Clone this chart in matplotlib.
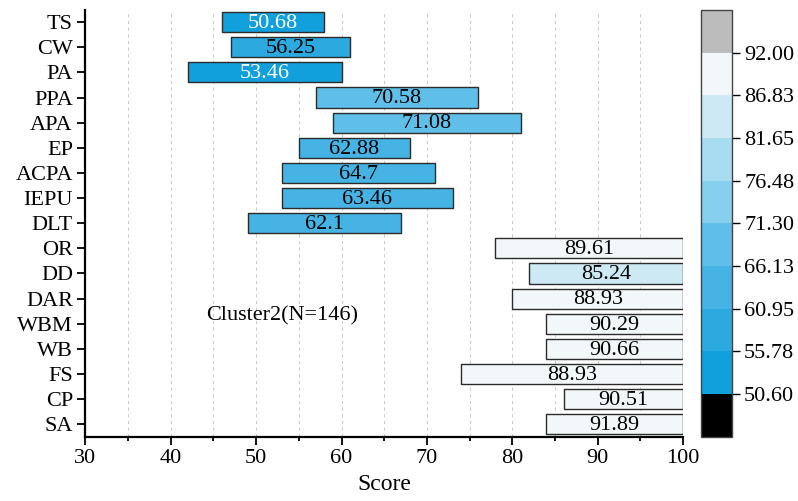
import numpy as np
import matplotlib
matplotlib.use("Agg")
import matplotlib.pyplot as plt
from matplotlib.colors import ListedColormap, BoundaryNorm
from matplotlib.colorbar import ColorbarBase

plt.rcParams["font.family"] = ["Liberation Serif", "DejaVu Serif"]

# dimensions, top to bottom
labels = ["TS", "CW", "PA", "PPA", "APA", "EP", "ACPA", "IEPU", "DLT",
          "OR", "DD", "DAR", "WBM", "WB", "FS", "CP", "SA"]
low = [46, 47, 42, 57, 59, 55, 53, 53, 49, 78, 82, 80, 84, 84, 74, 86, 84]
high = [58, 61, 60, 76, 81, 68, 71, 73, 67, 100, 100, 100, 100, 100, 100, 100, 100]
means = [50.68, 56.25, 53.46, 70.58, 71.08, 62.88, 64.7, 63.46, 62.1,
         89.61, 85.24, 88.93, 90.29, 90.66, 88.93, 90.51, 91.89]

levels = [50.60, 55.78, 60.95, 66.13, 71.30, 76.48, 81.65, 86.83, 92.00]
level_colors = ["#11a0dc", "#2caae0", "#45b4e4", "#5fbfe9",
                "#86cfee", "#a7dcf1", "#cce9f4", "#f2f8f9"]

cmap = ListedColormap(level_colors)
cmap.set_under("black")
cmap.set_over("#bcbcbc")
norm = BoundaryNorm(levels, cmap.N)

fs = 16

fig = plt.figure(figsize=(7.98, 5.01), dpi=100)
ax = fig.add_axes([0.107, 0.128, 0.749, 0.853])
cax = fig.add_axes([0.8784, 0.128, 0.0385, 0.853])

for x in np.arange(35, 100, 5):
    ax.axvline(x, color="#cccccc", lw=0.8, ls=(0, (3, 3)), zorder=0)

y = np.arange(len(labels))
ax.barh(y, np.array(high) - np.array(low), left=low, height=0.8,
        color=cmap(norm(means)), edgecolor="#2b2b2b", linewidth=1.0, zorder=2)

for i in range(len(labels)):
    txt_color = "white" if means[i] < levels[1] else "black"
    ax.text((low[i] + high[i]) / 2, y[i] + 0.05, f"{means[i]:g}",
            ha="center", va="center", fontsize=fs, color=txt_color, zorder=3)

ax.text(53, 11.7, "Cluster2(N=146)", ha="center", va="center", fontsize=fs)

ax.set_xlim(30, 100)
ax.set_ylim(16.5, -0.5)
ax.set_yticks(y)
ax.set_yticklabels(labels)
ax.set_xticks(np.arange(30, 101, 10))
ax.set_xticks(np.arange(35, 100, 10), minor=True)
ax.set_xlabel("Score", fontsize=17, labelpad=4)

for side in ["top", "right"]:
    ax.spines[side].set_visible(False)
for side in ["left", "bottom"]:
    ax.spines[side].set_linewidth(1.6)
ax.tick_params(axis="both", which="major", direction="out", length=6,
               width=1.3, labelsize=fs, pad=3)
ax.tick_params(axis="x", which="minor", direction="out", length=3, width=1.3)

cb = ColorbarBase(cax, cmap=cmap, norm=norm, boundaries=[40] + levels + [100],
                  extend="both", extendrect=True, extendfrac=0.126,
                  ticks=levels, spacing="uniform")
cb.ax.set_yticklabels([f"{v:.2f}" for v in levels])
cb.ax.tick_params(direction="out", length=6, width=1.0, labelsize=fs, pad=3)
cb.outline.set_linewidth(1.0)
cb.outline.set_edgecolor("#444444")
cb.ax.minorticks_off()

fig.savefig("out.png", dpi=100)
